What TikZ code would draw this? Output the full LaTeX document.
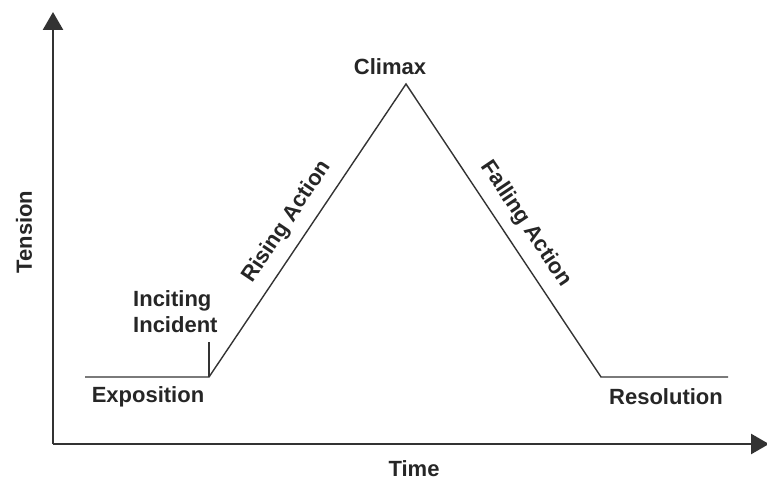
\documentclass[tikz,border=0pt]{standalone}
\usepackage{fontspec}
\setmainfont{Liberation Sans}
\usetikzlibrary{arrows.meta}
\begin{document}
\begin{tikzpicture}[x=1pt,y=-1pt,
  lbl/.style={font=\fontsize{22}{26}\selectfont\bfseries, text=black!85, inner sep=0pt},
  axis/.style={line width=2.6pt, draw=black!80, -{Triangle[length=18pt,width=20pt]}},
  plot/.style={line width=1.4pt, draw=black!80}]
\useasboundingbox (0,0) rectangle (767,484);
\coordinate (O) at (53,444);
\coordinate (ytip) at (53,12);
\coordinate (xtip) at (769,444);
\draw[axis] (O) -- (ytip);
\draw[axis] (O) -- (xtip);
\coordinate (e0) at (85,377);
\coordinate (e1) at (209,377);
\coordinate (tk) at (209,342);
\coordinate (pk) at (406,84);
\coordinate (r0) at (601,377);
\coordinate (r1) at (728,377);
\draw[plot] (e0) -- (e1) -- (pk) -- (r0) -- (r1);
\draw[plot] (e1) -- (tk);
\node[lbl, rotate=90] (tension) at (24,232) {Tension};
\node[lbl] (time) at (414,469) {Time};
\node[lbl] (climax) at (390,67) {Climax};
\node[lbl] (expo) at (148,397) {Exposition};
\node[lbl] (reso) at (666,397) {Resolution};
\node[lbl, align=left, anchor=north west, font=\fontsize{22}{26}\selectfont\bfseries] (inc) at (133,290) {Inciting\\Incident};
\node[lbl, rotate=56.1] (rise) at (287,222) {Rising Action};
\node[lbl, rotate=-56.1] (fall) at (526,224) {Falling Action};
\end{tikzpicture}
\end{document}
